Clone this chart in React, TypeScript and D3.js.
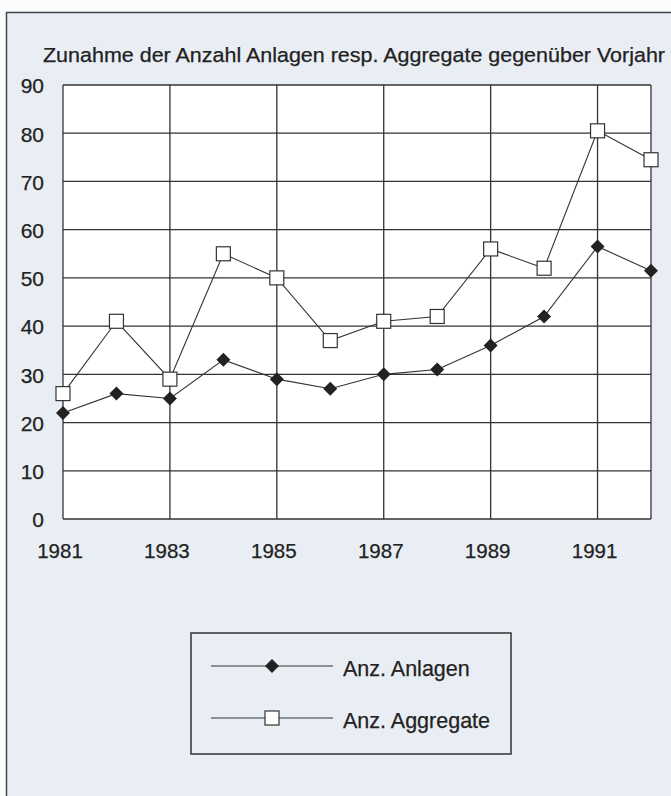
import { useEffect, useRef } from "react"
import * as d3 from "d3"

const years = [1981, 1982, 1983, 1984, 1985, 1986, 1987, 1988, 1989, 1990, 1991, 1992]
const anlagen = [22, 26, 25, 33, 29, 27, 30, 31, 36, 42, 56.5, 51.5]
const aggregate = [26, 41, 29, 55, 50, 37, 41, 42, 56, 52, 80.5, 74.5]
const yTicks = [0, 10, 20, 30, 40, 50, 60, 70, 80, 90]
const xTicks = [1981, 1983, 1985, 1987, 1989, 1991]
const title = "Zunahme der Anzahl Anlagen resp. Aggregate gegenüber Vorjahr"
const seriesNames = ["Anz. Anlagen", "Anz. Aggregate"]

const W = 671
const H = 796
const FONT = "'Liberation Sans', Arial, sans-serif"
const INK = "#222"

const App = () => {
  const svgRef = useRef<SVGSVGElement | null>(null)

  useEffect(() => {
    const plot = { top: 85, bottom: 519, left: 63, right: 651 }

    const svg = d3.select(svgRef.current)
    svg.selectAll("*").remove()

    // page background + scanned frame (runs off right/bottom edge)
    svg.append("rect").attr("width", W).attr("height", H).attr("fill", "#fafbfc")
    svg
      .append("rect")
      .attr("x", 6.5)
      .attr("y", 12.5)
      .attr("width", 800)
      .attr("height", 900)
      .attr("fill", "#e9eef4")
      .attr("stroke", "#444")
      .attr("stroke-width", 1.5)

    const x = d3.scaleLinear().domain([1981, 1992]).range([plot.left, plot.right])
    const y = d3.scaleLinear().domain([0, 90]).range([plot.bottom, plot.top])

    const txt = (sel: d3.Selection<any, any, any, any>, size: number) =>
      sel
        .attr("font-family", FONT)
        .attr("font-size", size)
        .attr("fill", INK)
        .attr("stroke", INK)
        .attr("stroke-width", 0.25)

    // title
    svg
      .append("text")
      .attr("x", 43)
      .attr("y", 62)
      .attr("textLength", 622)
      .attr("lengthAdjust", "spacingAndGlyphs")
      .call(txt, 20.5)
      .text(title)

    // plot area
    svg
      .append("rect")
      .attr("x", x(1981))
      .attr("y", y(90))
      .attr("width", x(1992) - x(1981))
      .attr("height", y(0) - y(90))
      .attr("fill", "#fff")

    const grid = svg.append("g").attr("stroke", "#333").attr("stroke-width", 1.3)
    grid
      .selectAll(".hgrid")
      .data(yTicks)
      .enter()
      .append("line")
      .attr("x1", x(1981))
      .attr("x2", x(1992))
      .attr("y1", (d) => y(d))
      .attr("y2", (d) => y(d))
    grid
      .selectAll(".vgrid")
      .data([...xTicks, 1992])
      .enter()
      .append("line")
      .attr("x1", (d) => x(d))
      .attr("x2", (d) => x(d))
      .attr("y1", y(0))
      .attr("y2", y(90))

    // y labels
    svg
      .selectAll(".ylab")
      .data(yTicks)
      .enter()
      .append("text")
      .attr("x", 44)
      .attr("y", (d) => y(d) + 1)
      .attr("dy", "0.35em")
      .attr("text-anchor", "end")
      .call(txt, 21)
      .text((d) => d)

    // x labels
    svg
      .selectAll(".xlab")
      .data(xTicks)
      .enter()
      .append("text")
      .attr("x", (d) => x(d) - 3)
      .attr("y", 558)
      .attr("text-anchor", "middle")
      .call(txt, 20.5)
      .text((d) => d)

    const line = d3
      .line<number>()
      .x((_, i) => x(years[i]))
      .y((d) => y(d))

    const diamond = (g: d3.Selection<any, any, any, any>, cx: number, cy: number) =>
      g
        .append("path")
        .attr("d", `M${cx},${cy - 7}L${cx + 7},${cy}L${cx},${cy + 7}L${cx - 7},${cy}Z`)
        .attr("fill", INK)
    const square = (g: d3.Selection<any, any, any, any>, cx: number, cy: number) =>
      g
        .append("rect")
        .attr("x", cx - 7)
        .attr("y", cy - 7)
        .attr("width", 14)
        .attr("height", 14)
        .attr("fill", "#fff")
        .attr("stroke", "#333")
        .attr("stroke-width", 1.2)

    ;[aggregate, anlagen].forEach((s) =>
      svg
        .append("path")
        .attr("d", line(s))
        .attr("fill", "none")
        .attr("stroke", "#333")
        .attr("stroke-width", 1.1)
    )

    const marks = svg.append("g")
    anlagen.forEach((v, i) => diamond(marks, x(years[i]), y(v)))
    aggregate.forEach((v, i) => square(marks, x(years[i]), y(v)))

    // legend
    const legend = svg.append("g")
    legend
      .append("rect")
      .attr("x", 191)
      .attr("y", 633)
      .attr("width", 320)
      .attr("height", 121)
      .attr("fill", "none")
      .attr("stroke", "#333")
      .attr("stroke-width", 1.5)
    seriesNames.forEach((name, i) => {
      const ly = 666 + i * 52
      legend
        .append("line")
        .attr("x1", 211)
        .attr("x2", 333)
        .attr("y1", ly)
        .attr("y2", ly)
        .attr("stroke", "#333")
        .attr("stroke-width", 1.1)
      if (i === 0) diamond(legend, 272, ly)
      else square(legend, 272, ly)
      legend
        .append("text")
        .attr("x", 343)
        .attr("y", ly + 10)
        .call(txt, 21.5)
        .text(name)
    })
  }, [])

  return (
    <div style={{ position: "absolute", left: 0, top: 0 }}>
      <svg ref={svgRef} width={W} height={H} style={{ display: "block" }}></svg>
    </div>
  )
}

export default App
